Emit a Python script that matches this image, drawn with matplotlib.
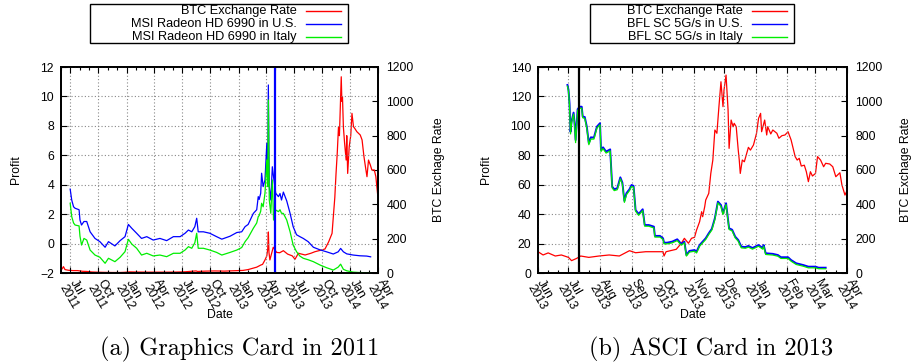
import numpy as np
import pandas as pd
import matplotlib
matplotlib.use("Agg")
import matplotlib.pyplot as plt
import matplotlib.dates as mdates
import matplotlib.transforms as mtransforms
from matplotlib.lines import Line2D
from matplotlib.patches import Rectangle

plt.rcParams["font.family"] = ["Liberation Sans", "DejaVu Sans"]
plt.rcParams["font.size"] = 8.8

# ---- (a) graphics card, 2011 ----
btc_a_dates = ["2011-06-01", "2011-06-05", "2011-06-09", "2011-06-14", "2011-06-25", "2011-07-10",
               "2011-07-25", "2011-08-10", "2011-08-25", "2011-09-10", "2011-09-25", "2011-10-15",
               "2011-11-15", "2011-12-10", "2011-12-25", "2012-01-10", "2012-02-10", "2012-03-10",
               "2012-04-10", "2012-05-10", "2012-06-10", "2012-07-10", "2012-08-15", "2012-08-20",
               "2012-09-15", "2012-10-15", "2012-11-15", "2012-12-15", "2013-01-15", "2013-02-01",
               "2013-02-15", "2013-03-01", "2013-03-15", "2013-03-20", "2013-03-28", "2013-04-03",
               "2013-04-06", "2013-04-08", "2013-04-10", "2013-04-13", "2013-04-18", "2013-04-24",
               "2013-05-05", "2013-05-15", "2013-05-27", "2013-06-10", "2013-06-25", "2013-07-04",
               "2013-07-15", "2013-08-06", "2013-08-25", "2013-09-07", "2013-09-29", "2013-10-10",
               "2013-10-22", "2013-11-02", "2013-11-07", "2013-11-11", "2013-11-15", "2013-11-19",
               "2013-11-23", "2013-11-26", "2013-11-29", "2013-12-02", "2013-12-04", "2013-12-06",
               "2013-12-09", "2013-12-13", "2013-12-18", "2013-12-20", "2013-12-23", "2013-12-28",
               "2014-01-02", "2014-01-06", "2014-01-11", "2014-01-16", "2014-01-22", "2014-02-02",
               "2014-02-08", "2014-02-14", "2014-02-19", "2014-02-24", "2014-03-01", "2014-03-07",
               "2014-03-12", "2014-03-20", "2014-03-25", "2014-03-31"]
btc_a = [17, 25, 37, 20, 16, 14,
         14, 10, 9, 6, 5, 4,
         3, 3, 4, 6.5, 5.5, 5,
         5, 5, 5.5, 7, 12, 9,
         11, 12, 11, 13, 15, 20,
         27, 34, 47, 50, 76, 100,
         140, 239, 120, 76, 110, 150,
         120, 118, 130, 110, 100, 80,
         115, 105, 115, 124, 134, 140,
         182, 231, 348, 440, 580, 700,
         852, 800, 969, 1143, 1000, 1027,
         850, 755, 658, 800, 580, 736,
         800, 930, 852, 840, 823, 804,
         775, 680, 619, 561, 658, 629,
         600, 600, 561, 454]

gpu_dates = ["2011-07-01", "2011-07-06", "2011-07-12", "2011-07-17", "2011-07-30", "2011-08-02",
             "2011-08-07", "2011-08-15", "2011-08-24", "2011-09-04", "2011-09-20", "2011-10-06",
             "2011-10-23", "2011-11-03", "2011-11-24", "2011-12-11", "2011-12-27", "2012-01-07",
             "2012-01-18", "2012-02-03", "2012-02-19", "2012-03-07", "2012-03-28", "2012-04-19",
             "2012-05-11", "2012-06-02", "2012-06-24", "2012-07-10", "2012-07-21", "2012-08-01",
             "2012-08-11", "2012-08-17", "2012-08-22", "2012-09-08", "2012-09-29", "2012-10-21",
             "2012-11-07", "2012-12-04", "2012-12-26", "2013-01-11", "2013-01-22", "2013-02-01",
             "2013-02-18", "2013-03-01", "2013-03-06", "2013-03-09", "2013-03-14", "2013-03-17",
             "2013-03-22", "2013-03-28", "2013-04-03", "2013-04-06", "2013-04-08", "2013-04-11",
             "2013-04-16", "2013-04-21", "2013-04-25", "2013-05-02", "2013-05-11", "2013-05-16",
             "2013-05-21", "2013-05-27", "2013-06-07", "2013-06-18", "2013-06-28", "2013-07-09",
             "2013-07-20", "2013-07-31", "2013-08-16", "2013-09-02", "2013-09-24", "2013-10-15",
             "2013-11-06", "2013-11-22", "2013-11-30", "2013-12-09", "2013-12-20", "2014-01-10",
             "2014-02-01", "2014-02-23", "2014-03-08"]
gpu_us = [3.7, 2.96, 2.5, 2.4, 2.3, 1.6,
          1.26, 1.5, 1.5, 0.8, 0.35, 0.13,
          -0.25, 0.13, -0.16, 0.2, 0.47, 1.3,
          1.04, 0.7, 0.35, 0.47, 0.24, 0.35,
          0.2, 0.47, 0.47, 0.7, 0.92, 0.8,
          1.15, 1.72, 0.8, 0.8, 0.7, 0.47,
          0.3, 0.5, 0.75, 0.8, 1.15, 1.3,
          2.05, 2.3, 3.19, 3.0, 3.42, 4.78,
          3.87, 4.32, 6.81, 5.0, 10.78, 3.87,
          2.96, 5.22, 4.54, 3.42, 3.19, 3.4,
          2.96, 3.5, 2.9, 2.05, 1.15, 0.6,
          0.47, 0.35, 0.13, -0.25, -0.43, -0.56,
          -0.71, -0.56, -0.33, -0.56, -0.7, -0.78,
          -0.83, -0.85, -0.9]
gpu_it = [2.74, 1.83, 1.4, 1.26, 1.2, 0.5,
          -0.1, 0.35, 0.24, -0.44, -0.78, -0.93,
          -1.34, -1.0, -1.23, -0.93, -0.55, 0.29,
          -0.03, -0.32, -0.78, -0.66, -0.84, -0.78,
          -0.89, -0.66, -0.66, -0.44, -0.21, -0.32,
          0.06, 0.7, -0.32, -0.32, -0.44, -0.6,
          -0.78, -0.6, -0.44, -0.27, 0.13, 0.4,
          1.04, 1.4, 1.83, 1.9, 2.2, 2.74,
          2.5, 3.42, 5.68, 3.87, 9.76, 2.96,
          2.06, 4.32, 1.6, 2.28, 2.17, 2.3,
          2.06, 2.05, 1.6, 0.8, -0.1, -0.55,
          -0.85, -1.0, -1.1, -1.23, -1.46, -1.64,
          -1.8, -1.6, -1.4, -1.75, -1.85, -1.94,
          -1.97, -1.98, -2.0]
vline_a = "2013-04-29"

# ---- (b) ASIC card, 2013 ----
btc_b_dates = ["2013-06-01", "2013-06-06", "2013-06-11", "2013-06-18", "2013-06-24", "2013-07-01",
               "2013-07-04", "2013-07-09", "2013-07-13", "2013-07-21", "2013-07-31", "2013-08-10",
               "2013-08-20", "2013-08-30", "2013-09-05", "2013-09-15", "2013-09-25", "2013-10-02",
               "2013-10-03", "2013-10-05", "2013-10-15", "2013-10-20", "2013-10-23", "2013-10-27",
               "2013-10-30", "2013-11-02", "2013-11-04", "2013-11-07", "2013-11-09", "2013-11-10",
               "2013-11-12", "2013-11-13", "2013-11-16", "2013-11-18", "2013-11-20", "2013-11-22",
               "2013-11-24", "2013-11-26", "2013-11-28", "2013-11-30", "2013-12-01", "2013-12-03",
               "2013-12-05", "2013-12-06", "2013-12-08", "2013-12-10", "2013-12-11", "2013-12-13",
               "2013-12-15", "2013-12-16", "2013-12-17", "2013-12-19", "2013-12-21", "2013-12-25",
               "2013-12-27", "2013-12-30", "2014-01-02", "2014-01-04", "2014-01-06", "2014-01-07",
               "2014-01-10", "2014-01-12", "2014-01-13", "2014-01-16", "2014-01-18", "2014-01-22",
               "2014-01-24", "2014-01-27", "2014-01-30", "2014-02-02", "2014-02-05", "2014-02-09",
               "2014-02-11", "2014-02-13", "2014-02-15", "2014-02-18", "2014-02-20", "2014-02-22",
               "2014-02-24", "2014-02-26", "2014-03-01", "2014-03-03", "2014-03-06", "2014-03-09",
               "2014-03-11", "2014-03-15", "2014-03-18", "2014-03-21", "2014-03-25", "2014-03-27",
               "2014-03-30", "2014-04-01"]
btc_b = [124, 105, 117, 99, 105, 91,
         72, 85, 99, 91, 99, 105,
         99, 130, 118, 124, 124, 124,
         99, 124, 138, 173, 202, 173,
         202, 208, 250, 299, 357, 328,
         386, 425, 464, 580, 658, 833,
         814, 969, 1114, 969, 1066, 1153,
         949, 726, 891, 852, 872, 852,
         716, 658, 580, 658, 648, 732,
         716, 746, 814, 901, 930, 823,
         891, 804, 852, 810, 833, 814,
         785, 800, 804, 823, 775, 678,
         658, 668, 623, 628, 590, 532,
         590, 565, 580, 678, 658, 619,
         639, 635, 619, 561, 584, 513,
         454, 480]

asic_dates = ["2013-06-30", "2013-07-01", "2013-07-02", "2013-07-03", "2013-07-04", "2013-07-06",
              "2013-07-07", "2013-07-08", "2013-07-10", "2013-07-12", "2013-07-14", "2013-07-15",
              "2013-07-17", "2013-07-19", "2013-07-21", "2013-07-23", "2013-07-26", "2013-07-29",
              "2013-08-01", "2013-08-02", "2013-08-04", "2013-08-07", "2013-08-11", "2013-08-13",
              "2013-08-15", "2013-08-18", "2013-08-21", "2013-08-23", "2013-08-25", "2013-08-27",
              "2013-08-30", "2013-09-01", "2013-09-03", "2013-09-05", "2013-09-08", "2013-09-12",
              "2013-09-14", "2013-09-18", "2013-09-23", "2013-09-24", "2013-09-29", "2013-10-02",
              "2013-10-03", "2013-10-06", "2013-10-11", "2013-10-16", "2013-10-20", "2013-10-23",
              "2013-10-25", "2013-10-28", "2013-11-02", "2013-11-04", "2013-11-07", "2013-11-10",
              "2013-11-13", "2013-11-16", "2013-11-19", "2013-11-22", "2013-11-25", "2013-11-28",
              "2013-11-30", "2013-12-03", "2013-12-05", "2013-12-06", "2013-12-09", "2013-12-12",
              "2013-12-15", "2013-12-18", "2013-12-22", "2013-12-25", "2013-12-29", "2014-01-01",
              "2014-01-04", "2014-01-08", "2014-01-09", "2014-01-11", "2014-01-18", "2014-01-23",
              "2014-01-26", "2014-02-02", "2014-02-05", "2014-02-10", "2014-02-17", "2014-02-22",
              "2014-03-01", "2014-03-04", "2014-03-11"]
asic_us = [127.8, 124.4, 115.4, 96, 103, 109,
           101.8, 90.4, 111.3, 113, 113, 106.3,
           106, 99.5, 88.2, 92.2, 92, 99.5,
           101.8, 83.6, 85.4, 82.5, 84, 58.7,
           56.9, 57.6, 65, 61.4, 49, 54.2,
           56.9, 59.8, 59.2, 42.8, 40.1, 43.3,
           32.6, 32.6, 31.5, 25.2, 25.2, 23.6,
           20.6, 20.6, 21.3, 22.9, 19.7, 21.3,
           12.2, 15, 15.6, 14.5, 19, 21.3,
           23.6, 27, 30, 37.2, 48.5, 46.2,
           40.6, 47.4, 36, 30.4, 29.4, 24.7,
           22.4, 17.9, 17.6, 18.4, 17, 18,
           19, 17, 19, 13.4, 13, 12.2,
           10.7, 10.7, 8.8, 6.6, 5.4, 4.3,
           4.3, 3.6, 3.6]
asic_it = [127.0, 123.5, 114, 94.5, 102, 108,
           100.5, 88.6, 110.5, 112, 112, 105.5,
           105, 98.5, 87.2, 91, 91, 98.5,
           100.8, 82.6, 84.5, 81.5, 83, 57.8,
           56, 56.6, 64, 60.5, 48, 53.2,
           56, 58.8, 58.3, 42, 39.2, 42.4,
           31.8, 31.8, 30.6, 24.4, 24.4, 22.8,
           19.8, 19.8, 20.5, 22, 18.9, 20.5,
           11.5, 14.2, 14.8, 13.6, 18.2, 20.5,
           22.8, 26.2, 29.2, 36.4, 47.7, 45.3,
           39.8, 46.5, 35.2, 29.6, 28.6, 23.9,
           21.6, 17.1, 16.8, 17.6, 16.2, 17.2,
           18.2, 16.2, 18.2, 12.6, 12.2, 11.4,
           9.9, 9.9, 8, 5.8, 4.6, 3.5,
           3.5, 2.9, 2.9]
vline_b = "2013-07-11"

fig = plt.figure(figsize=(9.12, 3.64), dpi=100)
W, H = 912.0, 364.0


def panel(rect, xlim, major, minor, ylim, yticks):
    ax = fig.add_axes(rect)
    ax2 = ax.twinx()
    ax.set_zorder(ax2.get_zorder() + 1)
    ax.patch.set_visible(False)
    ax.set_xlim(pd.to_datetime(xlim[0]), pd.to_datetime(xlim[1]))
    ax.set_ylim(*ylim)
    ax.set_yticks(yticks)
    ax2.set_ylim(0, 1200)
    ax2.set_yticks(np.arange(0, 1201, 200))
    ax.xaxis.set_major_locator(major)
    ax.xaxis.set_minor_locator(minor)
    ax.xaxis.set_major_formatter(mdates.DateFormatter("%b\n%Y"))
    ax.grid(True, which="major", color="#888888", linestyle=(0, (1, 2)), linewidth=0.8)
    ax.tick_params(axis="x", which="both", direction="in", top=True, bottom=True, pad=3)
    ax.tick_params(axis="x", which="major", length=4, width=0.8)
    ax.tick_params(axis="x", which="minor", length=2.5, width=0.8)
    ax.tick_params(axis="y", direction="in", length=4, width=0.8, pad=5, right=False)
    ax2.tick_params(axis="y", direction="in", length=4, width=0.8, pad=6)
    for s in ax.spines.values():
        s.set_linewidth(1.3)
    for s in ax2.spines.values():
        s.set_linewidth(1.3)
    shift = mtransforms.ScaledTranslation(7 / 100, 0, fig.dpi_scale_trans)
    for lab in ax.get_xticklabels():
        lab.set_rotation(-60)
        lab.set_ha("left")
        lab.set_va("top")
        lab.set_rotation_mode("anchor")
        lab.set_linespacing(0.95)
        lab.set_transform(lab.get_transform() + shift)
    ax.set_ylabel("Profit")
    ax2.set_ylabel("BTC Exchage Rate")
    ax.set_xlabel("Date")
    ax.xaxis.set_label_coords(0.5, -0.175)
    return ax, ax2


def legend_box(x0, x1, text_right, l0, l1, labels, colors):
    fig.patches.append(Rectangle((x0 / W, 1 - 43 / H), (x1 - x0) / W, 39 / H,
                                 transform=fig.transFigure, fill=False, lw=1, ec="black"))
    for i, (lab, c) in enumerate(zip(labels, colors)):
        yy = 1 - (11 + 12.8 * i) / H
        fig.text(text_right / W, yy, lab, ha="right", va="center", fontsize=9.2)
        fig.add_artist(Line2D([l0 / W, l1 / W], [yy, yy], color=c, lw=1,
                              transform=fig.transFigure))


RED, BLUE, GREEN = "#ff0000", "#0000ff", "#00ee00"

# (a)
ax, ax2 = panel([61 / W, 1 - 273 / H, 317 / W, 206 / H], ("2011-06-01", "2014-04-01"),
                mdates.MonthLocator(bymonth=[1, 4, 7, 10]), mdates.MonthLocator(),
                (-2, 12), np.arange(-2, 13, 2))
ax2.plot(pd.to_datetime(btc_a_dates), btc_a, color=RED, lw=0.9)
ax.plot(pd.to_datetime(gpu_dates), gpu_us, color=BLUE, lw=0.9)
ax.plot(pd.to_datetime(gpu_dates), gpu_it, color=GREEN, lw=0.9)
ax.axvline(pd.to_datetime(vline_a), color=BLUE, lw=1.6)
ax.yaxis.set_label_coords(-0.123, 0.5)
ax2.yaxis.set_label_coords(1.173, 0.5)

# (b)
bx, bx2 = panel([538 / W, 1 - 273 / H, 309 / W, 206 / H], ("2013-06-01", "2014-04-01"),
                mdates.MonthLocator(), mdates.DayLocator(bymonthday=[11, 21]),
                (0, 140), np.arange(0, 141, 20))
bx2.plot(pd.to_datetime(btc_b_dates), btc_b, color=RED, lw=0.9)
bx.plot(pd.to_datetime(asic_dates), asic_us, color=BLUE, lw=1.4)
bx.plot(pd.to_datetime(asic_dates), asic_it, color=GREEN, lw=0.9)
bx.axvline(pd.to_datetime(vline_b), color="black", lw=1.6)
bx.yaxis.set_label_coords(-0.149, 0.5)
bx2.yaxis.set_label_coords(1.172, 0.5)

legend_box(90, 348, 297, 306, 341,
           ["BTC Exchange Rate", "MSI Radeon HD 6990 in U.S.", "MSI Radeon HD 6990 in Italy"],
           [RED, BLUE, GREEN])
legend_box(590, 794, 743, 752, 787,
           ["BTC Exchange Rate", "BFL SC 5G/s in U.S.", "BFL SC 5G/s in Italy"],
           [RED, BLUE, GREEN])

fig.text(240 / W, 1 - 349 / H, "(a) Graphics Card in 2011", family="cmr10", fontsize=17.5,
         ha="center", va="center")
fig.text(711 / W, 1 - 349 / H, "(b) ASCI Card in 2013", family="cmr10", fontsize=17.5,
         ha="center", va="center")

fig.savefig("out.png", dpi=100)
